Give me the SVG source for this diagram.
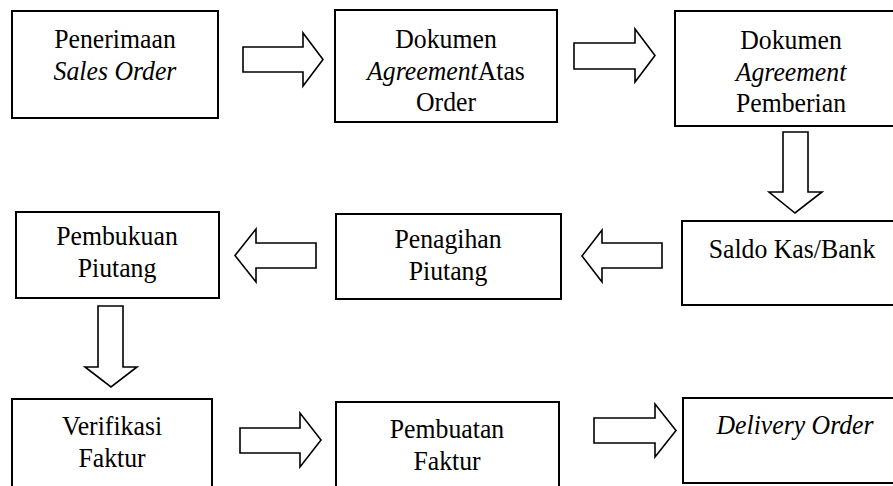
<svg xmlns="http://www.w3.org/2000/svg" width="893" height="486" viewBox="0 0 893 486">
<style>
.box{fill:#fff;stroke:#000;stroke-width:2}
.arr{fill:#fff;stroke:#000;stroke-width:1.6;stroke-linejoin:miter}
.t{font-family:'Liberation Serif','Times New Roman','Noto Serif',serif;font-size:28px;fill:#000;text-anchor:middle}
.i{font-style:italic}
</style>
<rect width="893" height="486" fill="#fff"/>
<g id="connectors">
<polygon class="arr" points="243,47 303,47 303,33 323,59.5 303,86 303,72 243,72"/>
<polygon class="arr" points="574,43 635,43 635,29 655,55.5 635,82 635,69 574,69"/>
<polygon class="arr" points="783,132 808,132 808,192 822,192 795,213 769,192 783,192"/>
<polygon class="arr" points="662,243 602,243 602,230 582,256 602,282 602,268 662,268"/>
<polygon class="arr" points="316,243 256,243 256,229 235,255.5 256,282 256,268 316,268"/>
<polygon class="arr" points="98,306 123,306 123,367 137,367 111,387 85,367 98,367"/>
<polygon class="arr" points="240,428 300,428 300,413 321,440 300,467 300,453 240,453"/>
<polygon class="arr" points="594,418 655,418 655,404 676,430.5 655,457 655,443 594,443"/>
</g>
<g id="n1">
<rect class="box" x="12" y="11" width="206" height="107"/>
<text class="t" transform="translate(115 0) scale(0.92 1)"><tspan x="0" y="48">Penerimaan</tspan><tspan class="i" x="0" y="80">Sales Order</tspan></text>
</g>
<g id="n2">
<rect class="box" x="335" y="10" width="222" height="112"/>
<text class="t" transform="translate(446 0) scale(0.92 1)"><tspan x="0" y="48">Dokumen</tspan><tspan x="0" y="80"><tspan class="i">Agreement</tspan>Atas</tspan><tspan x="0" y="111">Order</tspan></text>
</g>
<g id="n3">
<rect class="box" x="675" y="11" width="235" height="115"/>
<text class="t" transform="translate(791 0) scale(0.92 1)"><tspan x="0" y="49">Dokumen</tspan><tspan class="i" x="0" y="81">Agreement</tspan><tspan x="0" y="112">Pemberian</tspan></text>
</g>
<g id="n4">
<rect class="box" x="682" y="221" width="228" height="84"/>
<text class="t" transform="translate(792 0) scale(0.92 1)"><tspan x="0" y="258">Saldo Kas/Bank</tspan></text>
</g>
<g id="n5">
<rect class="box" x="336" y="214" width="225" height="85"/>
<text class="t" transform="translate(448 0) scale(0.92 1)"><tspan x="0" y="248">Penagihan</tspan><tspan x="0" y="280">Piutang</tspan></text>
</g>
<g id="n6">
<rect class="box" x="16" y="212" width="203" height="86"/>
<text class="t" transform="translate(117 0) scale(0.92 1)"><tspan x="0" y="245">Pembukuan</tspan><tspan x="0" y="277">Piutang</tspan></text>
</g>
<g id="n7">
<rect class="box" x="12" y="399" width="200" height="100"/>
<text class="t" transform="translate(112 0) scale(0.92 1)"><tspan x="0" y="435">Verifikasi</tspan><tspan x="0" y="467">Faktur</tspan></text>
</g>
<g id="n8">
<rect class="box" x="336" y="402" width="223" height="100"/>
<text class="t" transform="translate(447 0) scale(0.92 1)"><tspan x="0" y="438">Pembuatan</tspan><tspan x="0" y="470">Faktur</tspan></text>
</g>
<g id="n9">
<rect class="box" x="683" y="398" width="227" height="85"/>
<text class="t i" transform="translate(795 0) scale(0.92 1)"><tspan x="0" y="434">Delivery Order</tspan></text>
</g>
</svg>
